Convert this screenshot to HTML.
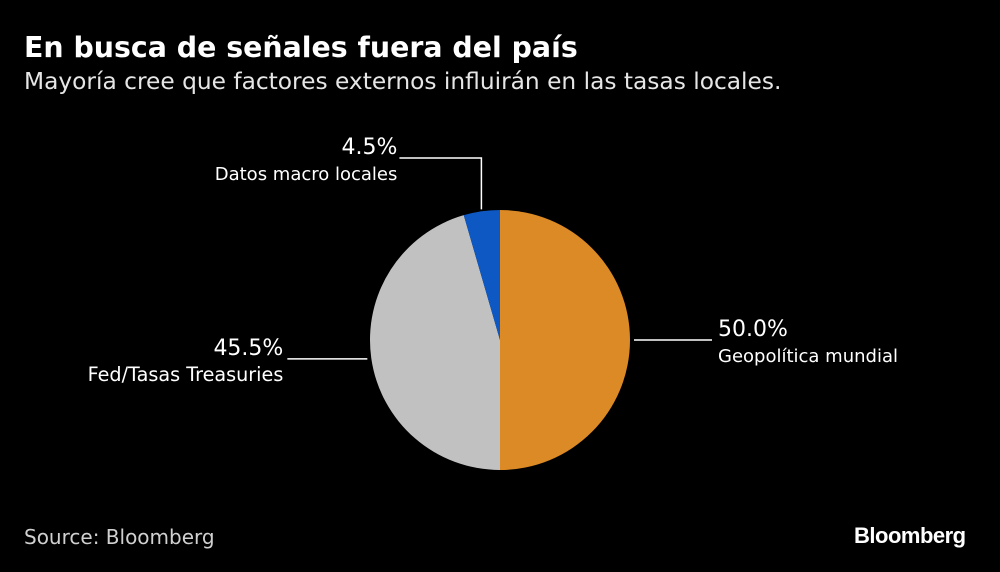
<!DOCTYPE html>
<html><head><meta charset="utf-8"><style>
html,body{margin:0;padding:0;background:#000;}
body{width:1000px;height:572px;position:relative;overflow:hidden;font-family:"DejaVu Sans",sans-serif;color:#fff;}
.t{position:absolute;white-space:nowrap;}
</style></head><body>
<div class="t" style="left:24px;top:31px;font-size:28.4px;font-weight:bold;">En busca de señales fuera del país</div>
<div class="t" style="left:24px;top:68px;font-size:23.3px;color:#e6e6e6;">Mayoría cree que factores externos influirán en las tasas locales.</div>
<svg id="chart" width="1000" height="572" style="position:absolute;left:0;top:0;" xmlns="http://www.w3.org/2000/svg"></svg>
<div class="t" style="left:24px;top:525px;font-size:20px;color:#d0d0d0;">Source: Bloomberg</div>
<div class="t" style="left:854px;top:523px;font-size:22px;font-weight:bold;letter-spacing:-0.5px;font-family:'Liberation Sans',sans-serif;">Bloomberg</div>
<script>
const categories=["Geopolítica mundial","Fed/Tasas Treasuries","Datos macro locales"];
const values=[50.0,45.5,4.5];
const labels=["50.0%","45.5%","4.5%"];
const colors=["#db8a25","#c1c1c1","#0d58c2"];
const svg=document.getElementById('chart');
const NS="http://www.w3.org/2000/svg";
const cx=500,cy=340,r=130;
const total=values.reduce((a,b)=>a+b,0);
let a0=0;
function pt(a,rr){return [cx+rr*Math.sin(a),cy-rr*Math.cos(a)];}
values.forEach((v,i)=>{
  const a1=a0+v/total*2*Math.PI;
  const p0=pt(a0,r),p1=pt(a1,r);
  const large=(a1-a0)>Math.PI?1:0;
  const p=document.createElementNS(NS,'path');
  p.setAttribute('d',`M${cx},${cy}L${p0[0]},${p0[1]}A${r},${r} 0 ${large} 1 ${p1[0]},${p1[1]}Z`);
  p.setAttribute('fill',colors[i]);
  
  
  svg.appendChild(p);
  const mid=(a0+a1)/2;
  const m=pt(mid,r+4);
  const ln=document.createElementNS(NS,'polyline');
  let pts,tx,ty,anchor,fs='18';
  if(Math.sin(mid)>0.5){pts=`${m[0]},${m[1]} ${m[0]+78},${m[1]}`;tx=m[0]+84;ty=m[1];anchor='start';}
  else if(Math.sin(mid)<-0.5){pts=`${m[0]},${m[1]} ${m[0]-80},${m[1]}`;tx=m[0]-84;ty=m[1];anchor='end';fs='19.2';}
  else {const e=pt(mid,r+2);pts=`${e[0]},${e[1]} ${e[0]},${cy-r-52} ${e[0]-82},${cy-r-52}`;tx=e[0]-84;ty=cy-r-52;anchor='end';}
  ln.setAttribute('points',pts);
  ln.setAttribute('fill','none');ln.setAttribute('stroke','#fff');ln.setAttribute('stroke-width','1.5');
  
  
  svg.appendChild(ln);
  const t1=document.createElementNS(NS,'text');
  t1.setAttribute('x',tx);t1.setAttribute('y',ty-4);t1.setAttribute('text-anchor',anchor);
  t1.setAttribute('fill','#fff');t1.setAttribute('font-size','22');t1.setAttribute('font-family','DejaVu Sans, sans-serif');
  t1.textContent=labels[i];
  
  
  svg.appendChild(t1);
  const t2=document.createElementNS(NS,'text');
  t2.setAttribute('x',tx);t2.setAttribute('y',ty+22);t2.setAttribute('text-anchor',anchor);
  t2.setAttribute('fill','#fff');t2.setAttribute('font-size',fs);t2.setAttribute('font-family','DejaVu Sans, sans-serif');
  t2.textContent=categories[i];
  
  
  svg.appendChild(t2);
  a0=a1;
});
</script>
</body></html>
